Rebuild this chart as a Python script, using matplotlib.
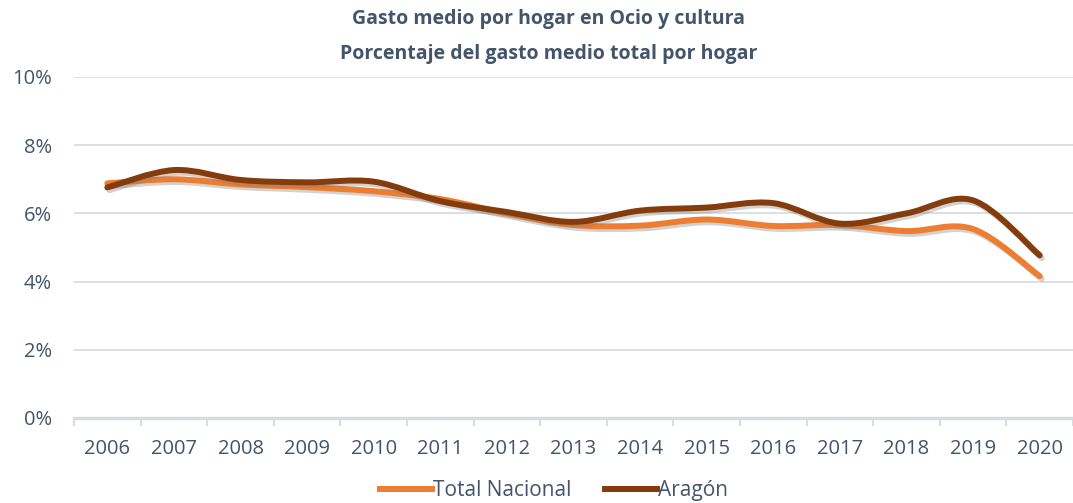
import matplotlib.pyplot as plt
import matplotlib.patheffects as pe
from matplotlib.path import Path
from matplotlib.patches import PathPatch
from matplotlib.lines import Line2D
import numpy as np

years = ["2006", "2007", "2008", "2009", "2010", "2011", "2012", "2013",
         "2014", "2015", "2016", "2017", "2018", "2019", "2020"]
total_nacional = [6.88, 7.00, 6.85, 6.77, 6.65, 6.42, 6.00, 5.66,
                  5.64, 5.82, 5.63, 5.66, 5.48, 5.54, 4.16]
aragon = [6.76, 7.27, 6.98, 6.91, 6.93, 6.36, 6.04, 5.75,
          6.08, 6.17, 6.30, 5.70, 6.00, 6.38, 4.77]

c_total = "#ED7D31"
c_aragon = "#843C0C"
c_text = "#44546A"
c_grid = "#D9DDE3"

plt.rcParams["font.family"] = ["Open Sans", "DejaVu Sans"]


def smooth_path(x, y):
    # Bezier segments through the points (Excel style smoothed line)
    x = np.asarray(x, float)
    y = np.asarray(y, float)
    n = len(x)
    verts = [(x[0], y[0])]
    codes = [Path.MOVETO]
    for i in range(n - 1):
        x0, y0 = (x[i - 1], y[i - 1]) if i > 0 else (x[i], y[i])
        x3, y3 = (x[i + 2], y[i + 2]) if i + 2 < n else (x[i + 1], y[i + 1])
        c1 = (x[i] + (x[i + 1] - x0) / 6, y[i] + (y[i + 1] - y0) / 6)
        c2 = (x[i + 1] - (x3 - x[i]) / 6, y[i + 1] - (y3 - y[i]) / 6)
        verts += [c1, c2, (x[i + 1], y[i + 1])]
        codes += [Path.CURVE4] * 3
    return Path(verts, codes)


fig = plt.figure(figsize=(10.73, 5.03), dpi=100)
ax = fig.add_axes([0.069, 0.169, 0.931, 0.678])

xs = np.arange(len(years))
for vals, col in [(total_nacional, c_total), (aragon, c_aragon)]:
    patch = PathPatch(smooth_path(xs, vals), facecolor="none", edgecolor=col,
                      lw=4.3, capstyle="round", joinstyle="round", zorder=3)
    patch.set_path_effects([
        pe.SimpleLineShadow(offset=(1.5, -2), shadow_color="gray", alpha=0.35),
        pe.Normal()])
    ax.add_patch(patch)

ax.set_xlim(-0.5, len(years) - 0.5)
ax.set_ylim(0, 10)
ax.set_yticks([0, 2, 4, 6, 8, 10])
ax.set_yticklabels([f"{v}%" for v in [0, 2, 4, 6, 8, 10]])
ax.yaxis.grid(True, color=c_grid, lw=1.3)
ax.set_axisbelow(True)

ax.set_xticks(xs)
ax.set_xticklabels(years)
ax.set_xticks(np.arange(-0.5, len(years)), minor=True)
ax.tick_params(axis="x", which="major", length=0, pad=15,
               labelsize=14.5, labelcolor=c_text)
ax.tick_params(axis="x", which="minor", length=6, width=1.5, color=c_grid)
ax.tick_params(axis="y", length=0, pad=16, labelsize=14.5, labelcolor=c_text)

for s in ["top", "right", "left"]:
    ax.spines[s].set_visible(False)
ax.spines["bottom"].set_color(c_grid)
ax.spines["bottom"].set_linewidth(2.5)

fig.text(0.511, 0.928, "Gasto medio por hogar en Ocio y cultura\n"
         "Porcentaje del gasto medio total por hogar",
         ha="center", va="center", fontsize=14, fontweight="bold",
         color=c_text, linespacing=2.0)

handles = [Line2D([], [], color=c_total, lw=4.3),
           Line2D([], [], color=c_aragon, lw=4.3)]
fig.legend(handles, ["Total Nacional", "Aragón"], loc="center",
           bbox_to_anchor=(0.516, 0.024), ncol=2, frameon=False,
           fontsize=15, labelcolor=c_text, handlelength=2.5,
           handletextpad=0.05, columnspacing=1.6)

fig.savefig("out.png", dpi=100)
